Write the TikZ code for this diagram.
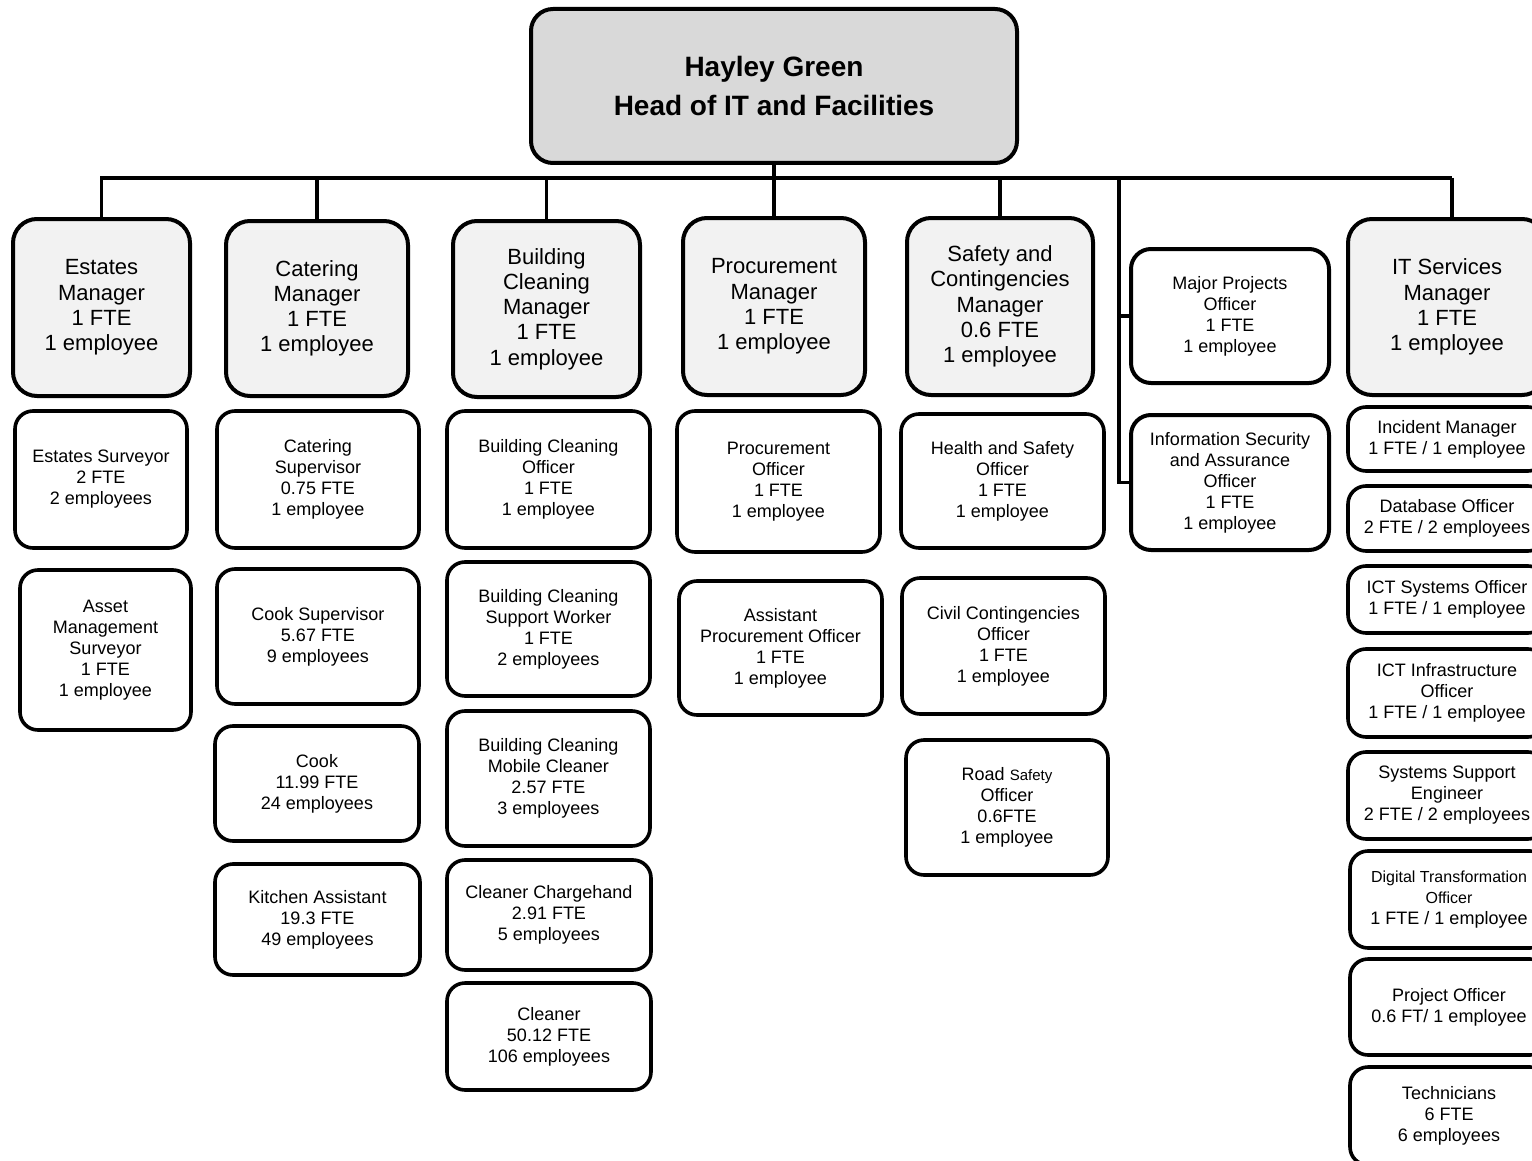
\documentclass[tikz,border=0pt]{standalone}
\usepackage{fontspec}
\setmainfont{Liberation Sans}
\definecolor{headgray}{HTML}{D9D9D9}
\definecolor{mgrgray}{HTML}{F2F2F2}
\tikzset{
  headbox/.style={draw, line width=2pt, rounded corners=11pt, fill=headgray,
    font=\bfseries\fontsize{14}{19.5}\selectfont, align=center, inner sep=0pt},
  mgrbox/.style={draw, line width=2pt, rounded corners=12pt, fill=mgrgray,
    font=\fontsize{11}{12.6}\selectfont, align=center, inner sep=0pt},
  staffbox/.style={draw, line width=1.8pt, rounded corners=9pt, fill=white,
    font=\fontsize{9}{10.5}\selectfont, align=center, inner sep=0pt},
  link/.style={line width=1.6pt}
}
\begin{document}
\begin{tikzpicture}[x=0.5pt, y=-0.5pt]
\useasboundingbox (0,0) rectangle (1532,1161);
\clip (0,0) rectangle (1532,1161);

% head
\node[headbox, minimum width=243pt, minimum height=77pt] (head) at (774,86)
  {Hayley Green\\Head of IT and Facilities};

% bus
\coordinate (busL) at (100,178);
\coordinate (busR) at (1452,178);
\coordinate (busS) at (1119,178);
\draw[link] (busL) -- (busR);
\draw[link] (head.south) -- (head.south |- busL);

% managers
\node[mgrbox, minimum width=88.5pt, minimum height=88.5pt] (estm) at (101.5,307.5)
  {Estates\\Manager\\1 FTE\\1 employee};
\node[mgrbox, minimum width=91pt, minimum height=87.5pt] (catm) at (317,308.5)
  {Catering\\Manager\\1 FTE\\1 employee};
\node[mgrbox, minimum width=93.5pt, minimum height=88pt] (bclm) at (546.5,309)
  {Building\\Cleaning\\Manager\\1 FTE\\1 employee};
\node[mgrbox, minimum width=91pt, minimum height=88.5pt] (prom) at (774,306.5)
  {Procurement\\Manager\\1 FTE\\1 employee};
\node[mgrbox, minimum width=93pt, minimum height=88.5pt] (safm) at (1000,306.5)
  {Safety and\\Contingencies\\Manager\\0.6 FTE\\1 employee};
\node[mgrbox, minimum width=99pt, minimum height=88pt] (itm) at (1447,307)
  {IT Services\\Manager\\1 FTE\\1 employee};
\node[staffbox, line width=2pt, rounded corners=10pt, minimum width=99pt, minimum height=67pt] (mpo) at (1230,316)
  {Major Projects\\Officer\\1 FTE\\1 employee};
\node[staffbox, line width=2pt, rounded corners=10pt, minimum width=99pt, minimum height=67.5pt] (iso) at (1230,482.5)
  {Information Security\\and Assurance\\Officer\\1 FTE\\1 employee};

\foreach \m in {estm, catm, bclm, prom, safm}
  \draw[link] (\m.north) -- (\m.north |- busL);
\draw[link] (busR) -- (busR |- itm.north);
\draw[link] (busS) |- (iso.west);
\draw[link] (mpo.west) -- (mpo.west -| busS);

% estates
\node[staffbox, minimum width=86pt, minimum height=68.5pt] (es1) at (101,479.5)
  {Estates Surveyor\\2 FTE\\2 employees};
\node[staffbox, minimum width=85.5pt, minimum height=80pt] (es2) at (105.5,650)
  {Asset\\Management\\Surveyor\\1 FTE\\1 employee};

% catering
\node[staffbox, minimum width=101pt, minimum height=68.5pt] (ca1) at (318,479.5)
  {Catering\\Supervisor\\0.75 FTE\\1 employee};
\node[staffbox, minimum width=101pt, minimum height=67.5pt] (ca2) at (318,636.5)
  {Cook Supervisor\\5.67 FTE\\9 employees};
\node[staffbox, minimum width=102pt, minimum height=57.5pt] (ca3) at (317,783.5)
  {Cook\\11.99 FTE\\24 employees};
\node[staffbox, minimum width=102.5pt, minimum height=55.5pt] (ca4) at (317.5,919.5)
  {Kitchen Assistant\\19.3 FTE\\49 employees};

% building cleaning
\node[staffbox, minimum width=101.5pt, minimum height=68.5pt] (bc1) at (548.5,479.5)
  {Building Cleaning\\Officer\\1 FTE\\1 employee};
\node[staffbox, minimum width=101.5pt, minimum height=67pt] (bc2) at (548.5,629)
  {Building Cleaning\\Support Worker\\1 FTE\\2 employees};
\node[staffbox, minimum width=101.5pt, minimum height=67.5pt] (bc3) at (548.5,778.5)
  {Building Cleaning\\Mobile Cleaner\\2.57 FTE\\3 employees};
\node[staffbox, minimum width=102pt, minimum height=55pt] (bc4) at (549,915)
  {Cleaner Chargehand\\2.91 FTE\\5 employees};
\node[staffbox, minimum width=102pt, minimum height=53.5pt] (bc5) at (549,1036.5)
  {Cleaner\\50.12 FTE\\106 employees};

% procurement
\node[staffbox, minimum width=101.5pt, minimum height=70.5pt] (pr1) at (778.5,481.5)
  {Procurement\\Officer\\1 FTE\\1 employee};
\node[staffbox, minimum width=101.5pt, minimum height=67pt] (pr2) at (780.5,648)
  {Assistant\\Procurement Officer\\1 FTE\\1 employee};

% safety
\node[staffbox, minimum width=101.5pt, minimum height=67pt] (sa1) at (1002.5,481)
  {Health and Safety\\Officer\\1 FTE\\1 employee};
\node[staffbox, minimum width=101.5pt, minimum height=68pt] (sa2) at (1003.5,646)
  {Civil Contingencies\\Officer\\1 FTE\\1 employee};
\node[staffbox, minimum width=101pt, minimum height=67.5pt] (sa3) at (1007,807.5)
  {Road {\fontsize{7.5}{10.5}\selectfont Safety}\\Officer\\0.6FTE\\1 employee};

% it services
\node[staffbox, minimum width=99pt, minimum height=32pt] (it1) at (1447,439)
  {Incident Manager\\1 FTE / 1 employee};
\node[staffbox, minimum width=99pt, minimum height=32.5pt] (it2) at (1447,518.5)
  {Database Officer\\2 FTE / 2 employees};
\node[staffbox, minimum width=99pt, minimum height=33.5pt] (it3) at (1447,599.5)
  {ICT Systems Officer\\1 FTE / 1 employee};
\node[staffbox, minimum width=99pt, minimum height=44pt] (it4) at (1447,693)
  {ICT Infrastructure\\Officer\\1 FTE / 1 employee};
\node[staffbox, minimum width=99pt, minimum height=43.5pt] (it5) at (1447,795.5)
  {Systems Support\\Engineer\\2 FTE / 2 employees};
\node[staffbox, minimum width=99pt, minimum height=48.5pt] (it6) at (1449,899.5)
  {{\fontsize{8}{10.5}\selectfont Digital Transformation}\\{\fontsize{8}{10.5}\selectfont Officer}\\1 FTE / 1 employee};
\node[staffbox, minimum width=99pt, minimum height=48pt] (it7) at (1449,1007)
  {Project Officer\\0.6 FT/ 1 employee};
\node[staffbox, minimum width=99pt, minimum height=49pt] (it8) at (1449,1116)
  {Technicians\\6 FTE\\6 employees};
\end{tikzpicture}
\end{document}
